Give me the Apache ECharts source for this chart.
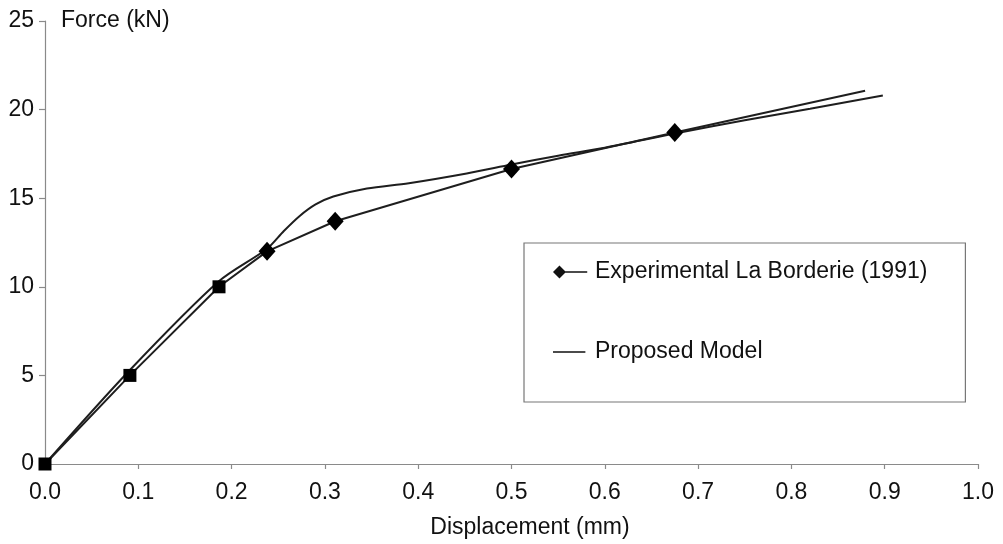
<!DOCTYPE html>
<html>
<head>
<meta charset="utf-8">
<script src="https://cdn.jsdelivr.net/npm/echarts@6/dist/echarts.min.js"></script>
<style>
html,body{margin:0;padding:0;background:#fff;}
#chart{width:1003px;height:544px;}
</style>
</head>
<body>
<div id="chart"></div>
<script>
// ---- data ----
const xTicks = [0.0, 0.1, 0.2, 0.3, 0.4, 0.5, 0.6, 0.7, 0.8, 0.9, 1.0];
const yTicks = [0, 5, 10, 15, 20, 25];

const expX = [0, 0.091, 0.1865, 0.238, 0.311, 0.500, 0.675, 0.879];
const expY = [0, 5.0, 10.0, 12.0, 13.7, 16.65, 18.71, 21.06];

const modelX = [0, 0.09, 0.186, 0.238, 0.256, 0.273, 0.29, 0.309, 0.345, 0.39, 0.452, 0.5, 0.55, 0.6, 0.675, 0.75, 0.82, 0.898];
const modelY = [0, 5.25, 10.3, 12.15, 13.15, 14.0, 14.65, 15.1, 15.55, 15.85, 16.4, 16.9, 17.4, 17.85, 18.65, 19.4, 20.05, 20.79];

const expName = 'Experimental La Borderie (1991)';
const modelName = 'Proposed Model';

// ---- build ----
const FONT = '"Liberation Sans", Arial, sans-serif';
const FS = 23;
const expData = expX.map((x, i) => {
  const item = { value: [x, expY[i]] };
  if (i === expX.length - 1) { item.symbol = 'none'; }
  else if (i < 3) { item.symbol = 'rect'; item.symbolSize = 13; }
  else { item.symbol = 'diamond'; item.symbolSize = [17, 19]; }
  return item;
});
const modelData = modelX.map((x, i) => [x, modelY[i]]);

const tiny = ' M0 0 L0.02 0 L0 0.02 Z M40 16 L39.98 16 L40 15.98 Z';
const expIcon = 'path://M0 8 L7 1 L14 8 L7 15 Z M13 7.3 L37 7.3 L37 8.7 L13 8.7 Z' + tiny;
const modelIcon = 'path://M0 7.3 L35 7.3 L35 8.7 L0 8.7 Z' + tiny;

const chart = echarts.init(document.getElementById('chart'), null, { renderer: 'canvas' });
chart.setOption({
  animation: false,
  backgroundColor: '#ffffff',
  textStyle: { fontFamily: FONT },
  grid: { left: 45, right: 25, top: 21, bottom: 79, containLabel: false },
  xAxis: {
    type: 'value', min: 0, max: 1.0, interval: 0.1,
    name: 'Displacement (mm)', nameLocation: 'middle', nameGap: 52,
    nameTextStyle: { fontFamily: FONT, fontSize: FS, color: '#111', padding: [0, 0, 0, 37] },
    axisLine: { lineStyle: { color: '#8a8a8a', width: 1.2 } },
    axisTick: { show: true, length: 5, lineStyle: { color: '#8a8a8a', width: 1.2 } },
    axisLabel: { fontFamily: FONT, fontSize: FS, color: '#111', margin: 17,
      formatter: v => v.toFixed(1) },
    splitLine: { show: false }
  },
  yAxis: {
    type: 'value', min: 0, max: 25, interval: 5,
    name: 'Force (kN)', nameLocation: 'end', nameGap: 0,
    nameTextStyle: { fontFamily: FONT, fontSize: FS, color: '#111', align: 'left', verticalAlign: 'middle', padding: [0, 0, 0, 16] },
    axisLine: { show: true, lineStyle: { color: '#8a8a8a', width: 1.2 } },
    axisTick: { show: true, length: 6, lineStyle: { color: '#8a8a8a', width: 1.2 } },
    axisLabel: { fontFamily: FONT, fontSize: FS, color: '#111', margin: 11 },
    splitLine: { show: false }
  },
  legend: {
    orient: 'vertical', left: 524, top: 243,
    padding: [17, 38, 38, 29],
    itemGap: 56, itemWidth: 37, itemHeight: 16,
    borderColor: '#777', borderWidth: 1.2, borderRadius: 0,
    backgroundColor: '#fff',
    textStyle: { fontFamily: FONT, fontSize: FS, color: '#111', lineHeight: 24 },
    data: [
      { name: expName, icon: expIcon, itemStyle: { color: '#111' } },
      { name: modelName, icon: modelIcon, itemStyle: { color: '#111' } }
    ]
  },
  series: [
    {
      name: modelName, type: 'line', data: modelData,
      smooth: 0.3, symbol: 'none',
      lineStyle: { color: '#1e1e1e', width: 2 }, itemStyle: { color: '#1e1e1e' }, z: 2
    },
    {
      name: expName, type: 'line', data: expData,
      showAllSymbol: true,
      lineStyle: { color: '#1e1e1e', width: 2 }, itemStyle: { color: '#000' }, z: 3
    }
  ]
});
</script>
</body>
</html>
